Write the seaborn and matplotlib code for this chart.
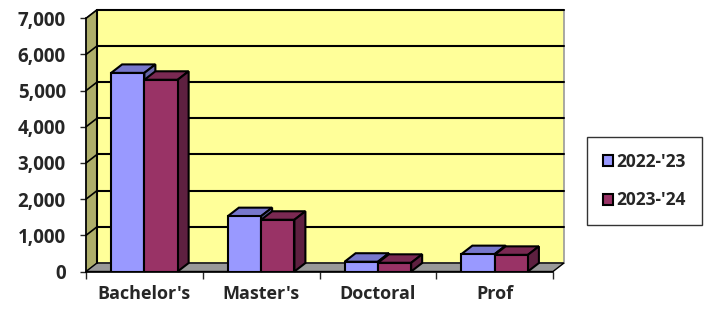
"""Degrees conferred, 2022-'23 vs 2023-'24 (Excel-style 3D column chart)."""

import matplotlib

matplotlib.use("Agg")
import matplotlib.pyplot as plt
import pandas as pd
import seaborn as sns
from matplotlib.patches import Polygon
from matplotlib.ticker import FuncFormatter

# data
categories = ["Bachelor's", "Master's", "Doctoral", "Prof"]
years = ["2022-'23", "2023-'24"]
degrees_2022 = [5490, 1530, 270, 480]
degrees_2023 = [5300, 1430, 240, 460]
y_ticks = [0, 1000, 2000, 3000, 4000, 5000, 6000, 7000]

front_colors = ["#9999FF", "#993366"]
top_colors = ["#7777CC", "#7A2952"]
side_colors = ["#6666A8", "#5E2040"]

df = pd.DataFrame(
    {
        "category": categories * 2,
        "year": [years[0]] * 4 + [years[1]] * 4,
        "count": degrees_2022 + degrees_2023,
    }
)

sns.set_style("white")
plt.rcParams["font.family"] = ["Open Sans", "DejaVu Sans"]
plt.rcParams["font.weight"] = "bold"

fig = plt.figure(figsize=(7.07, 3.09), dpi=100)
ax = fig.add_axes([86 / 707, 37.5 / 309, 467 / 707, 253.2 / 309])

sns.barplot(
    data=df, x="category", y="count", hue="year", palette=front_colors,
    saturation=1, width=0.57, edgecolor="black", linewidth=1.5, ax=ax, zorder=5,
)
ax.set_xlim(-0.5, 3.5)
ax.set_ylim(0, 7000)

# 3D depth offset (11 px right, 8.5 px up) in data units
dx = 11 / (467 / 4)
dy = 8.5 / (253.2 / 7000)

# walls and floor
back = Polygon([(-0.5 + dx, dy), (3.5 + dx, dy), (3.5 + dx, 7000 + dy), (-0.5 + dx, 7000 + dy)],
               closed=True, facecolor="#FFFF99", edgecolor="#999999", lw=1.2, zorder=1, clip_on=False)
left = Polygon([(-0.5, 0), (-0.5 + dx, dy), (-0.5 + dx, 7000 + dy), (-0.5, 7000)],
               closed=True, facecolor="#AEAE6A", edgecolor="#555555", lw=0.8, zorder=2, clip_on=False)
floor = Polygon([(-0.5, 0), (3.5, 0), (3.5 + dx, dy), (-0.5 + dx, dy)],
                closed=True, facecolor="#999999", edgecolor="black", lw=1.0, zorder=2, clip_on=False)
for p in (back, left, floor):
    ax.add_patch(p)
ax.plot([-0.5 + dx, -0.5 + dx], [dy, 7000 + dy], color="black", lw=1.5, zorder=3, clip_on=False)

# gridlines on back wall plus the diagonals on the left wall
for v in y_ticks[1:]:
    ax.plot([-0.5 + dx, 3.5 + dx], [v + dy, v + dy], color="black", lw=1.5, zorder=3, clip_on=False)
    ax.plot([-0.5, -0.5 + dx], [v, v + dy], color="black", lw=1.2, zorder=3, clip_on=False)

# top and side faces for each bar
for i, container in enumerate(ax.containers):
    for bar in container:
        x0, w, h = bar.get_x(), bar.get_width(), bar.get_height()
        x1 = x0 + w
        top = Polygon([(x0, h), (x1, h), (x1 + dx, h + dy), (x0 + dx, h + dy)], closed=True,
                      facecolor=top_colors[i], edgecolor="black", lw=1.5,
                      zorder=4 + 2 * i, clip_on=False)
        side = Polygon([(x1, 0), (x1 + dx, dy), (x1 + dx, h + dy), (x1, h)], closed=True,
                       facecolor=side_colors[i], edgecolor="black", lw=1.5,
                       zorder=4 + 2 * i, clip_on=False)
        ax.add_patch(top)
        ax.add_patch(side)
        bar.set_zorder(5 + 2 * i)

# axes styling
for s in ("top", "right"):
    ax.spines[s].set_visible(False)
for s in ("left", "bottom"):
    ax.spines[s].set_color("black")
    ax.spines[s].set_linewidth(1.2)
    ax.spines[s].set_zorder(10)

ax.set_yticks(y_ticks)
ax.yaxis.set_major_formatter(FuncFormatter(lambda v, _: f"{int(v):,}"))
ax.tick_params(axis="y", left=True, length=4.5, width=1, pad=10, labelsize=13.5)
ax.set_xticks(range(len(categories)))
ax.set_xticklabels(categories)
ax.set_xticks([-0.5, 0.5, 1.5, 2.5, 3.5], minor=True)
ax.tick_params(axis="x", which="major", length=0, pad=10, labelsize=13)
ax.tick_params(axis="x", which="minor", bottom=True, length=5, width=1)
for lbl in ax.get_xticklabels() + ax.get_yticklabels():
    lbl.set_fontweight("bold")
ax.set_xlabel("")
ax.set_ylabel("")

# legend
handles, labels = ax.get_legend_handles_labels()
ax.legend_.remove()
leg = fig.legend(
    handles, labels, loc="center", bbox_to_anchor=(644.5 / 707, 1 - 181 / 309),
    frameon=True, fancybox=False, edgecolor="black", handlelength=0.6, handleheight=0.6,
    handletextpad=0.2, labelspacing=1.2, borderpad=0.9, borderaxespad=0,
    prop={"weight": "bold", "size": 12.5},
)
leg.get_frame().set_linewidth(1.0)

fig.savefig("out.png", dpi=100)
